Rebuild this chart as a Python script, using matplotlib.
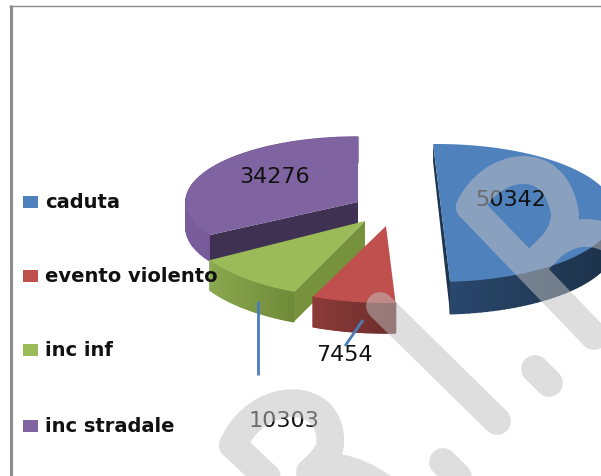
import numpy as np
import matplotlib
matplotlib.use("Agg")
import matplotlib.pyplot as plt
from matplotlib.patches import PathPatch, Polygon, Rectangle
from matplotlib.path import Path

labels = ["caduta", "evento violento", "inc inf", "inc stradale"]
values = [50342, 7454, 10303, 34276]
top_colors = ["#4f81bd", "#c0504d", "#9bbb59", "#8064a2"]

# shading of the 3d side walls: outer wall left/right end, then the cut face
wall_left = ["#2a4a70", "#8d3b39", "#8aa84f", "#7a5c9c"]
wall_right = ["#1d3149", "#6b2c2b", "#6f8a38", "#745893"]
face_colors = ["#1f3650", "#7a302e", "#76923c", "#3f3151"]

# exploded position and size of each slice, in pixels of the picture
centers = [(437, 214), (386, 227), (365, 222), (358, 203)]
radii = [(178, 69), (185, 77), (180, 77), (172, 65)]
depths = [32, 30, 30, 26]
# the perspective leans the blue slice a little
lean = [-0.022, 0, 0, 0]

legend_y = [203, 277, 351, 427]
value_pos = [(511, 200), (344, 355), (284, 421), (275, 177)]
leaders = [((258, 302), (258, 376)), ((363, 321), (345, 347))]

fig = plt.figure(figsize=(6.01, 4.77), dpi=100)
ax = fig.add_axes([0, 0, 1, 1])
ax.set_xlim(0, 601)
ax.set_ylim(477, 0)
ax.axis("off")


def edge(c, r, a):
	# angle runs clockwise from the top of the ellipse
	return c[0] + r[0]*np.sin(a), c[1] - r[1]*np.cos(a)


shares = np.array(values)/sum(values)*2*np.pi
stops = np.cumsum(shares)
starts = stops - shares

# back to front: purple, green, red, blue
for i in [3, 2, 1, 0]:
	c, r, d = centers[i], radii[i], depths[i]
	a = np.linspace(starts[i], stops[i], 90) + lean[i]
	x, y = edge(c, r, a)

	# outer wall, in thin strips for the shading
	left = matplotlib.colors.to_rgb(wall_left[i])
	right = matplotlib.colors.to_rgb(wall_right[i])
	for k in range(len(a)-1):
		if np.cos((a[k]+a[k+1])/2) > 0.05 and i != 3:
			continue
		t = (x[k]-x.min())/(x.max()-x.min())
		col = [left[n]*(1-t) + right[n]*t for n in range(3)]
		ax.add_patch(Polygon([(x[k], y[k]), (x[k+1], y[k+1]), (x[k+1], y[k+1]+d), (x[k], y[k]+d)],
			closed=True, fc=col, ec=col, lw=1.0, zorder=i*-3+10))

	# cut faces
	if i == 0:
		ax.add_patch(Polygon([(x[0], y[0]), (x[-1], y[-1]), (x[-1], y[-1]+d), (x[0], y[0]+18)],
			closed=True, fc=face_colors[i], ec="none", zorder=i*-3+10))
	if i == 2 or i == 3:
		ax.add_patch(Polygon([c, (x[0], y[0]), (x[0], y[0]+d), (c[0], c[1]+d)],
			closed=True, fc=face_colors[i], ec="none", zorder=i*-3+10))

	# top of the slice, blue is almost half the pie so its cut is one straight line
	if i == 0:
		outline = np.column_stack([x, y])
	else:
		outline = np.vstack([np.column_stack([x, y]), c])
	ax.add_patch(Polygon(outline, closed=True, fc=top_colors[i], ec="none", zorder=i*-3+11))

# frame on the left and at the top
ax.plot([10.5, 10.5], [6, 477], color="#8c8c8c", lw=2.2, solid_capstyle="butt", zorder=20)
ax.plot([9, 601], [6.5, 6.5], color="#8c8c8c", lw=1.0, solid_capstyle="butt", zorder=20)

for i in range(4):
	ax.add_patch(Rectangle((23, legend_y[i]-6), 15, 12, fc=top_colors[i], ec="none", zorder=20))
	ax.text(45, legend_y[i], labels[i], fontsize=14, fontweight="bold", va="center", ha="left",
		color="#111111", zorder=20)
	ax.text(value_pos[i][0], value_pos[i][1], str(values[i]), fontsize=16, va="center", ha="center",
		color="#111111", zorder=20)

for p, q in leaders:
	ax.plot([p[0], q[0]], [p[1], q[1]], color="#4a7ebb", lw=2, solid_capstyle="butt", zorder=21)

# watermark over everything
M, L, C = Path.MOVETO, Path.LINETO, Path.CURVE4
verts = [(380, 307), (497, 422),
	(470, 208), (594, 337),
	(470, 208), (490, 165), (555, 150), (565, 215),
	(565, 235), (550, 250), (537, 262),
	(555, 240), (580, 225), (610, 240),
	(535, 370), (549, 384),
	(443, 463), (460, 480),
	(233, 446), (290, 500),
	(233, 446), (258, 390), (335, 390), (330, 447),
	(328, 455), (320, 465), (310, 473),
	(325, 465), (350, 465), (385, 490)]
codes = [M, L,
	M, L,
	M, C, C, C,
	C, C, C,
	C, C, C,
	M, L,
	M, L,
	M, L,
	M, C, C, C,
	C, C, C,
	C, C, C]
ax.add_patch(PathPatch(Path(verts, codes), fc="none", ec="#c0c0c0", alpha=0.52, lw=20,
	capstyle="round", joinstyle="round", zorder=30))

fig.savefig("out.png", dpi=100)
